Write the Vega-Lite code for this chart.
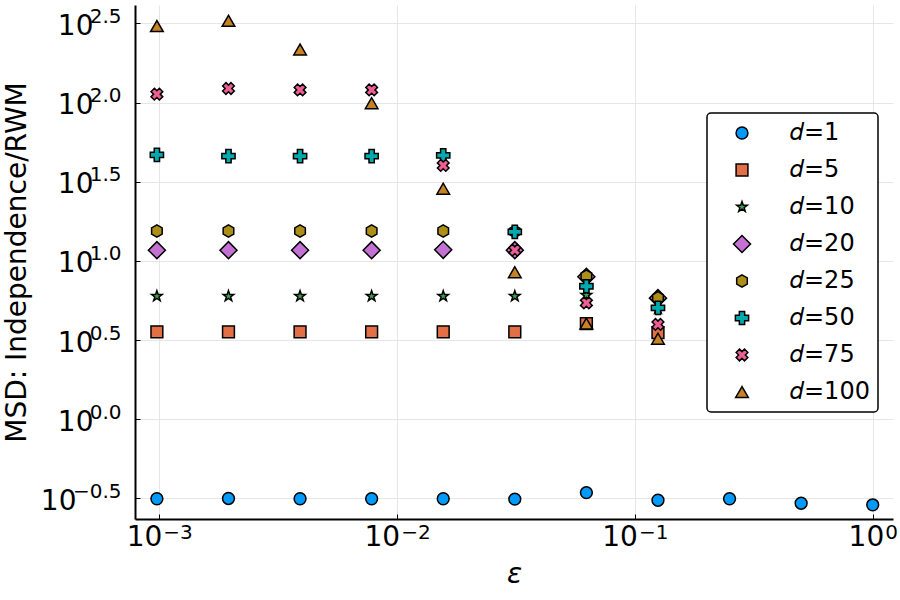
{
  "$schema": "https://vega.github.io/schema/vega-lite/v6.json",
  "autosize": {"type": "none"},
  "width": 758,
  "height": 514,
  "padding": {"left": 135, "top": 5, "right": 7, "bottom": 81},
  "background": "white",
  "config": {
    "view": {"stroke": null},
    "font": "DejaVu Sans",
    "axis": {
      "labelFont": "DejaVu Sans",
      "titleFont": "DejaVu Sans",
      "labelColor": "black",
      "titleColor": "black",
      "titleFontWeight": "normal",
      "domainColor": "black",
      "domainWidth": 2,
      "tickColor": "black",
      "tickWidth": 1,
      "gridColor": "#e6e6e6",
      "gridWidth": 1,
      "labelFlush": false,
      "labelOverlap": false,
      "labelBound": false
    },
    "legend": {
      "labelFont": "DejaVu Sans",
      "labelColor": "black"
    }
  },
  "data": {
    "values": [
      {"eps": 0.0009765625, "d": 1, "msd": 0.3148},
      {"eps": 0.001953125, "d": 1, "msd": 0.3162},
      {"eps": 0.00390625, "d": 1, "msd": 0.3148},
      {"eps": 0.0078125, "d": 1, "msd": 0.3148},
      {"eps": 0.015625, "d": 1, "msd": 0.3148},
      {"eps": 0.03125, "d": 1, "msd": 0.3133},
      {"eps": 0.0625, "d": 1, "msd": 0.3443},
      {"eps": 0.125, "d": 1, "msd": 0.3083},
      {"eps": 0.25, "d": 1, "msd": 0.3148},
      {"eps": 0.5, "d": 1, "msd": 0.2951},
      {"eps": 1, "d": 1, "msd": 0.2884},

      {"eps": 0.0009765625, "d": 5, "msd": 3.565},
      {"eps": 0.001953125, "d": 5, "msd": 3.565},
      {"eps": 0.00390625, "d": 5, "msd": 3.565},
      {"eps": 0.0078125, "d": 5, "msd": 3.565},
      {"eps": 0.015625, "d": 5, "msd": 3.565},
      {"eps": 0.03125, "d": 5, "msd": 3.565},
      {"eps": 0.0625, "d": 5, "msd": 4.018},
      {"eps": 0.125, "d": 5, "msd": 3.524},

      {"eps": 0.0009765625, "d": 10, "msd": 5.984},
      {"eps": 0.001953125, "d": 10, "msd": 5.984},
      {"eps": 0.00390625, "d": 10, "msd": 5.984},
      {"eps": 0.0078125, "d": 10, "msd": 5.984},
      {"eps": 0.015625, "d": 10, "msd": 5.984},
      {"eps": 0.03125, "d": 10, "msd": 5.984},
      {"eps": 0.0625, "d": 10, "msd": 6.081},
      {"eps": 0.125, "d": 10, "msd": 5.012},

      {"eps": 0.0009765625, "d": 20, "msd": 11.69},
      {"eps": 0.001953125, "d": 20, "msd": 11.69},
      {"eps": 0.00390625, "d": 20, "msd": 11.69},
      {"eps": 0.0078125, "d": 20, "msd": 11.69},
      {"eps": 0.015625, "d": 20, "msd": 11.75},
      {"eps": 0.03125, "d": 20, "msd": 11.69},
      {"eps": 0.0625, "d": 20, "msd": 7.943},
      {"eps": 0.125, "d": 20, "msd": 5.821},

      {"eps": 0.0009765625, "d": 25, "msd": 15.45},
      {"eps": 0.001953125, "d": 25, "msd": 15.45},
      {"eps": 0.00390625, "d": 25, "msd": 15.45},
      {"eps": 0.0078125, "d": 25, "msd": 15.45},
      {"eps": 0.015625, "d": 25, "msd": 15.45},
      {"eps": 0.03125, "d": 25, "msd": 15.31},
      {"eps": 0.0625, "d": 25, "msd": 8.017},
      {"eps": 0.125, "d": 25, "msd": 5.848},

      {"eps": 0.0009765625, "d": 50, "msd": 46.77},
      {"eps": 0.001953125, "d": 50, "msd": 45.92},
      {"eps": 0.00390625, "d": 50, "msd": 45.92},
      {"eps": 0.0078125, "d": 50, "msd": 45.92},
      {"eps": 0.015625, "d": 50, "msd": 46.34},
      {"eps": 0.03125, "d": 50, "msd": 15.24},
      {"eps": 0.0625, "d": 50, "msd": 6.918},
      {"eps": 0.125, "d": 50, "msd": 5.047},

      {"eps": 0.0009765625, "d": 75, "msd": 112.98},
      {"eps": 0.001953125, "d": 75, "msd": 122.7},
      {"eps": 0.00390625, "d": 75, "msd": 120.2},
      {"eps": 0.0078125, "d": 75, "msd": 120.2},
      {"eps": 0.015625, "d": 75, "msd": 40.09},
      {"eps": 0.03125, "d": 75, "msd": 11.69},
      {"eps": 0.0625, "d": 75, "msd": 5.433},
      {"eps": 0.125, "d": 75, "msd": 3.972},

      {"eps": 0.0009765625, "d": 100, "msd": 304.1},
      {"eps": 0.001953125, "d": 100, "msd": 328.1},
      {"eps": 0.00390625, "d": 100, "msd": 216.3},
      {"eps": 0.0078125, "d": 100, "msd": 99.08},
      {"eps": 0.015625, "d": 100, "msd": 28.58},
      {"eps": 0.03125, "d": 100, "msd": 8.492},
      {"eps": 0.0625, "d": 100, "msd": 4.018},
      {"eps": 0.125, "d": 100, "msd": 3.228}
    ]
  },
  "resolve": {"axis": {"x": "independent", "y": "independent"}},
  "layer": [
    {
      "mark": {"type": "point", "filled": true, "opacity": 1, "stroke": "black", "strokeWidth": 1.5, "clip": true},
      "encoding": {
        "x": {
          "field": "eps",
          "type": "quantitative",
          "scale": {"type": "log", "domain": [0.00079, 1.217], "nice": false},
          "axis": {
            "orient": "bottom",
            "title": "ε",
            "titleFontStyle": "italic",
            "titleFontSize": 28,
            "titlePadding": 9,
            "values": [0.001, 0.01, 0.1, 1],
            "labelExpr": "'10'",
            "labelFontSize": 28,
            "labelAlign": "right",
            "labelBaseline": "alphabetic",
            "labelPadding": 31,
            "labelOffset": {"condition": {"test": "datum.value >= 0.5", "value": 11}, "value": 2.5},
            "tickSize": -5
          }
        },
        "y": {
          "field": "msd",
          "type": "quantitative",
          "scale": {"type": "log", "domain": [0.2346, 413], "nice": false},
          "axis": {
            "orient": "left",
            "title": "MSD: Independence/RWM",
            "titleFontSize": 28,
            "titlePadding": 9,
            "values": [0.316227766, 1, 3.16227766, 10, 31.6227766, 100, 316.227766],
            "labelExpr": "'10'",
            "labelFontSize": 28,
            "labelAlign": "right",
            "labelBaseline": "alphabetic",
            "labelOffset": 11,
            "labelPadding": {"condition": {"test": "datum.value < 0.5", "value": 64}, "value": 47},
            "tickSize": -5
          }
        },
        "color": {
          "field": "d",
          "type": "ordinal",
          "scale": {
            "domain": [1, 5, 10, 20, 25, 50, 75, 100],
            "range": ["#009AFA", "#E36F47", "#3EA44E", "#C371D2", "#AC8E18", "#00AAAE", "#ED5E93", "#C68225"]
          },
          "legend": {
            "title": null,
            "orient": "none",
            "legendX": 572,
            "legendY": 108,
            "labelExpr": "'𝑑=' + datum.label",
            "labelFontSize": 24,
            "fillColor": "white",
            "strokeColor": "black",
            "cornerRadius": 4,
            "padding": 8,
            "symbolOffset": 15,
            "rowPadding": 13,
            "labelOffset": 36,
            "symbolStrokeColor": "black",
            "symbolStrokeWidth": 1.5,
            "symbolOpacity": 1,
            "encode": {"legend": {"update": {"strokeWidth": {"value": 1.5}}}}
          }
        },
        "shape": {
          "field": "d",
          "type": "ordinal",
          "scale": {
            "domain": [1, 5, 10, 20, 25, 50, 75, 100],
            "range": [
              "circle",
              "square",
              "M0,-1L0.235,-0.324L0.951,-0.309L0.38,0.124L0.588,0.809L0,0.4L-0.588,0.809L-0.38,0.124L-0.951,-0.309L-0.235,-0.324Z",
              "diamond",
              "M0,-1L0.866,-0.5L0.866,0.5L0,1L-0.866,0.5L-0.866,-0.5Z",
              "cross",
              "M-0.424,-0.99L0,-0.566L0.424,-0.99L0.99,-0.424L0.566,0L0.99,0.424L0.424,0.99L0,0.566L-0.424,0.99L-0.99,0.424L-0.566,0L-0.99,-0.424Z",
              "triangle-up"
            ]
          }
        },
        "size": {
          "field": "d",
          "type": "ordinal",
          "scale": {
            "type": "ordinal",
            "domain": [1, 5, 10, 20, 25, 50, 75, 100],
            "range": [140, 140, 125, 290, 150, 175, 140, 160]
          }
        }
      }
    },
    {
      "mark": {"type": "point", "opacity": 0},
      "encoding": {
        "x": {
          "field": "eps",
          "type": "quantitative",
          "scale": {"type": "log", "domain": [0.00079, 1.217], "nice": false},
          "axis": {
            "orient": "bottom",
            "title": null,
            "grid": false,
            "domain": false,
            "ticks": false,
            "values": [0.001, 0.01, 0.1, 1],
            "labelExpr": "['−3', '−2', '−1', '0'][round(log(datum.value) / LN10) + 3]",
            "labelFontSize": 20,
            "labelAlign": "left",
            "labelBaseline": "alphabetic",
            "labelPadding": 19,
            "labelOffset": {"condition": {"test": "datum.value >= 0.5", "value": 12}, "value": 3.5}
          }
        },
        "y": {
          "field": "msd",
          "type": "quantitative",
          "scale": {"type": "log", "domain": [0.2346, 413], "nice": false},
          "axis": {
            "orient": "left",
            "title": null,
            "grid": false,
            "domain": false,
            "ticks": false,
            "values": [0.316227766, 1, 3.16227766, 10, 31.6227766, 100, 316.227766],
            "labelExpr": "['−0.5', '0.0', '0.5', '1.0', '1.5', '2.0', '2.5'][round(2 * log(datum.value) / LN10) + 1]",
            "labelFontSize": 20,
            "labelAlign": "right",
            "labelBaseline": "alphabetic",
            "labelOffset": -1,
            "labelPadding": 14
          }
        }
      }
    }
  ]
}
